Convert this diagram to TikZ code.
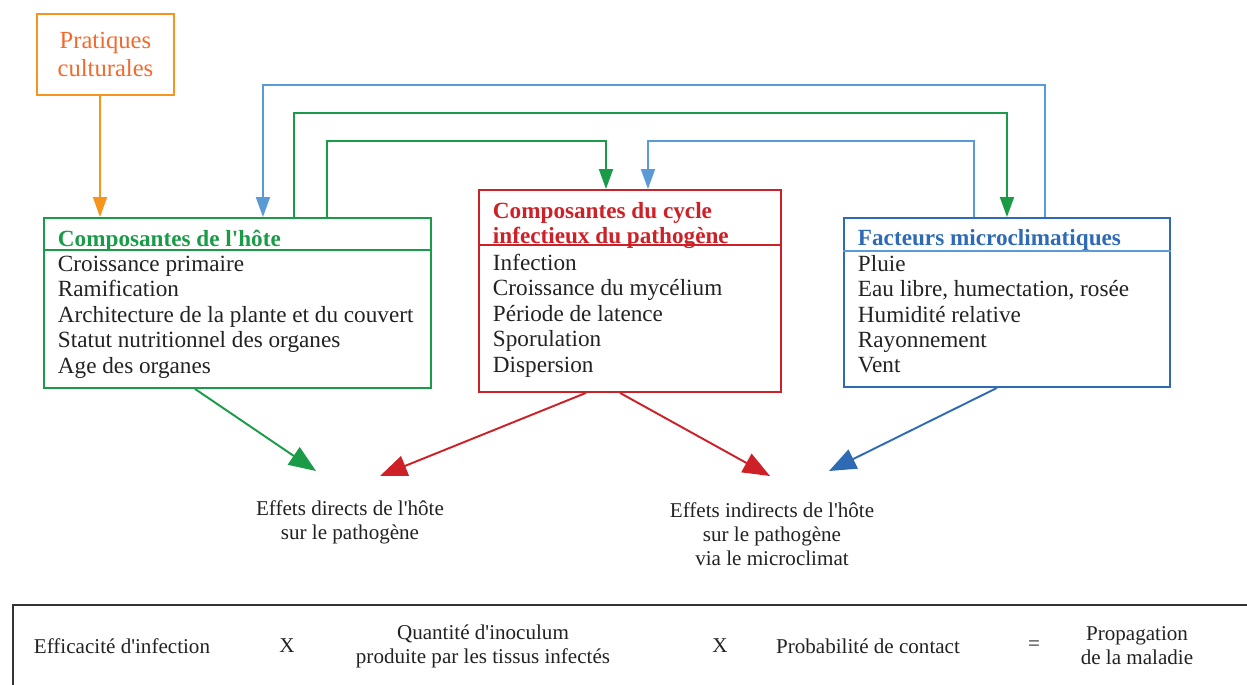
\documentclass[tikz,border=0pt]{standalone}
\usepackage{fontspec}
\newfontfamily\policeserif{Liberation Serif}
\usetikzlibrary{arrows.meta}

\definecolor{vert}{RGB}{26,155,72}
\definecolor{rouge}{RGB}{205,32,39}
\definecolor{bleu}{RGB}{46,107,180}
\definecolor{bleuclair}{RGB}{91,155,213}
\definecolor{orangebord}{RGB}{247,148,29}
\definecolor{orangetexte}{RGB}{241,105,45}
\definecolor{texte}{RGB}{34,34,34}
\definecolor{cadre}{RGB}{51,51,51}

\begin{document}
\begin{tikzpicture}[x=0.02cm, y=-0.02cm, line width=1.1pt, font=\policeserif,
        >={Triangle[length=0.4cm, width=0.28cm]}]
        \tikzstyle{boite}=[draw, shape=rectangle, anchor=north west, inner sep=0]
        \tikzstyle{titre}=[anchor=north west, inner sep=0, align=left, font=\policeserif\bfseries\fontsize{13.2}{14.4}\selectfont]
        \tikzstyle{liste}=[anchor=north west, inner sep=0, align=left, text=texte, font=\policeserif\fontsize{13.2}{14.5}\selectfont]
        \tikzstyle{effet}=[align=center, inner sep=0, text=texte, font=\policeserif\fontsize{12}{13.6}\selectfont]
        \tikzstyle{grosse}=[-{Triangle[length=0.54cm, width=0.42cm]}]

        \useasboundingbox (0,0) rectangle (1247,684);

        % pratiques culturales
        \node[boite, draw=orangebord, minimum width=2.74cm, minimum height=1.62cm, align=center,
              text=orangetexte, font=\policeserif\fontsize{14}{15.9}\selectfont] (prat) at (36,13) {Pratiques\\culturales};

        % composantes de l'hote
        \node[boite, draw=vert, minimum width=7.74cm, minimum height=3.4cm](host) at (43,217){};
        \draw[vert] ([yshift=-0.66cm]host.north west) -- ([yshift=-0.66cm]host.north east);
        \node[titre, text=vert](hostT) at (57,229){Composantes de l'hôte};
        \node[liste](hostL) at (57,255){Croissance primaire\\Ramification\\Architecture de la plante et du couvert\\Statut nutritionnel des organes\\Age des organes};

        % composantes du pathogene
        \node[boite, draw=rouge, minimum width=6.04cm, minimum height=4.04cm](patho) at (478,189){};
        \draw[rouge] ([yshift=-1.12cm]patho.north west) -- ([yshift=-1.12cm]patho.north east);
        \node[titre, text=rouge](pathoT) at (492,201){Composantes du cycle\\infectieux du pathogène};
        \node[liste](pathoL) at (492,253){Infection\\Croissance du mycélium\\Période de latence\\Sporulation\\Dispersion};

        % facteurs microclimatiques
        \node[boite, draw=bleu, minimum width=6.52cm, minimum height=3.38cm](micro) at (843,217){};
        \draw[bleuclair] ([yshift=-0.68cm]micro.north west) -- ([yshift=-0.68cm]micro.north east);
        \node[titre, text=bleu](microT) at (857,228){Facteurs microclimatiques};
        \node[liste](microL) at (857,254){Pluie\\Eau libre, humectation, rosée\\Humidité relative\\Rayonnement\\Vent};

        % effets
        \node[effet](directs) at (350,522){Effets directs de l'hôte\\sur le pathogène};
        \node[effet](indirects) at (772,534){Effets indirects de l'hôte\\sur le pathogène\\via le microclimat};
        \coordinate (dirG) at (316,471);
        \coordinate (dirR) at (380,476);
        \coordinate (indR) at (770,476);
        \coordinate (indB) at (829,471);

        % liens du haut
        \draw[->, orangebord] ([xshift=1.14cm]host.north west |- prat.south) -- ([xshift=1.14cm]host.north west);
        \draw[->, bleuclair] ([xshift=4.04cm]micro.north west) -- ++(0,-132) -| ([xshift=4.4cm]host.north west);
        \draw[->, vert] ([xshift=5.02cm]host.north west) -- ++(0,-104) -| ([xshift=3.28cm]micro.north west);
        \draw[->, vert] ([xshift=5.68cm]host.north west) -- ++(0,-76) -| ([xshift=2.56cm]patho.north west);
        \draw[->, bleuclair] ([xshift=2.62cm]micro.north west) -- ++(0,-76) -| ([xshift=3.4cm]patho.north west);

        % liens vers les effets
        \draw[grosse, vert] ([xshift=3.04cm]host.south west) -- (dirG);
        \draw[grosse, rouge] ([xshift=2.16cm]patho.south west) -- (dirR);
        \draw[grosse, rouge] ([xshift=2.84cm]patho.south west) -- (indR);
        \draw[grosse, bleu] ([xshift=3.08cm]micro.south west) -- (indB);

        % equation du bas
        \node[boite, draw=cadre, line width=1.4pt, minimum width=25cm, minimum height=2cm](formule) at (12,604){};
        \node[effet](effic) at (122,646){Efficacité d'infection};
        \node[effet](fois1) at (287,646){X};
        \node[effet](quant) at (483,646){Quantité d'inoculum\\produite par les tissus infectés};
        \node[effet](fois2) at (720,646){X};
        \node[effet](proba) at (868,646){Probabilité de contact};
        \node[effet](egal) at (1034,646){=};
        \node[effet](propag) at (1137,646){Propagation\\de la maladie};

\end{tikzpicture}
\end{document}
